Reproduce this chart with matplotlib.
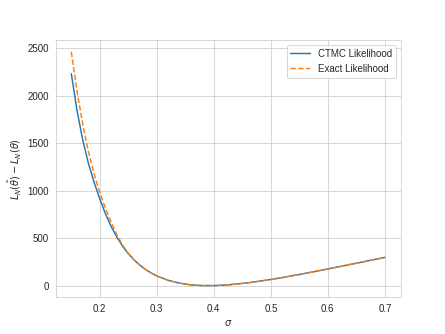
import matplotlib
matplotlib.use("Agg")
import matplotlib.pyplot as plt
import seaborn as sns

sns.set_style("whitegrid")
plt.rcParams['font.family'] = ['Liberation Sans', 'DejaVu Sans']

sigma = [0.15, 0.16, 0.17, 0.18, 0.19, 0.20, 0.21, 0.22, 0.23, 0.24, 0.25,
         0.26, 0.27, 0.28, 0.29, 0.30, 0.32, 0.34, 0.36, 0.38, 0.40, 0.42,
         0.44, 0.46, 0.48, 0.50, 0.52, 0.54, 0.56, 0.58, 0.60, 0.62, 0.64,
         0.66, 0.68, 0.70]

ctmc = [2230, 1845, 1535, 1287, 1087, 912, 756, 622, 510, 415, 337,
        272, 217, 171, 134, 102, 56, 26, 8, 1, 1, 6,
        17, 30, 47, 65, 85, 107, 129, 152, 176, 200, 224,
        248, 273, 297]

exact = [2461, 2045, 1700, 1412, 1175, 980, 812, 665, 535, 428, 340,
         273, 218, 172, 134, 102, 56, 26, 8, 1, 1, 6,
         17, 30, 47, 65, 85, 107, 129, 152, 176, 200, 224,
         248, 273, 297]

fig, ax = plt.subplots(figsize=(445/70, 334/70), dpi=70)
ax.plot(sigma, ctmc, color='#1f77b4', linestyle='-', linewidth=1.5, label='CTMC Likelihood')
ax.plot(sigma, exact, color='#ff7f0e', linestyle='--', linewidth=1.5, label='Exact Likelihood')
ax.set_xlabel(r'$\sigma$')
ax.set_ylabel(r'$L_N(\hat{\theta}) - L_N(\theta)$')
ax.set_yticks([0, 500, 1000, 1500, 2000, 2500])
ax.legend(loc='upper right')
fig.savefig('out.png', dpi=70)
